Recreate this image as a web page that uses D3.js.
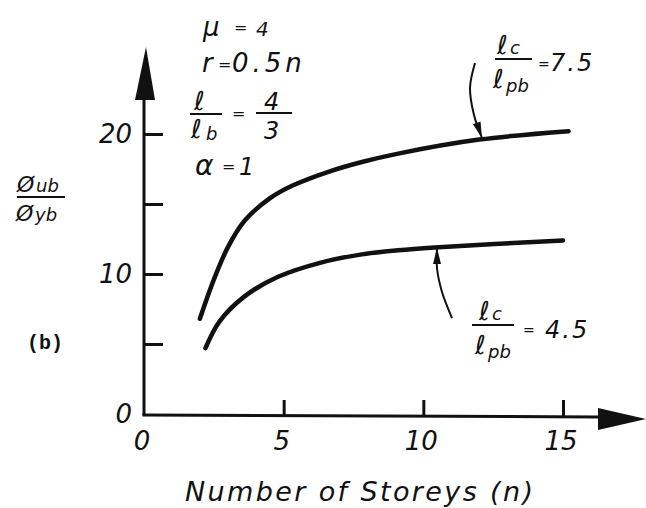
<!DOCTYPE html>
<html>
<head>
<meta charset="utf-8">
<script src="https://cdn.jsdelivr.net/npm/d3@7"></script>
<style>
  body { margin: 0; background: #fff; }
  svg { display: block; }
  text { font-family: "DejaVu Sans", sans-serif; font-style: italic; fill: #111; }
  text.mono { font-family: "Liberation Mono", "Courier New", monospace; font-style: normal; font-weight: bold; }
</style>
</head>
<body>
<svg width="646" height="508"></svg>
<script>
// ---- data ----
var storeysHi = [2.0, 2.5, 3.0, 3.6, 4.5, 5.3, 6.6, 7.8, 9.1, 12.0, 15.2];
var ratioHi   = [6.8, 9.6, 11.9, 13.8, 15.4, 16.3, 17.3, 18.0, 18.6, 19.6, 20.2]; // lc/lpb = 7.5
var storeysLo = [2.2, 2.7, 3.6, 4.8, 6.3, 7.8, 9.1, 10.4, 15.0];
var ratioLo   = [4.7, 6.6, 8.4, 9.8, 10.8, 11.4, 11.7, 11.9, 12.4];  // lc/lpb = 4.5
var xTickMarks = [5, 10, 15];
var xTickLabels = [0, 5, 10, 15];
var yTickMarks = [5, 10, 15, 20];
var yTickLabels = [0, 10, 20];

var svg = d3.select("svg"),
    width = +svg.attr("width"),
    height = +svg.attr("height");

var x = d3.scaleLinear().domain([0, 15]).range([144, 563]);
var y = d3.scaleLinear().domain([0, 20]).range([414, 134]);

var ink = "#111";

// axes with their arrow heads
var gAxes = svg.append("g");
gAxes.append("line")
    .attr("x1", x(0)).attr("y1", y(0) + 1.5)
    .attr("x2", x(0)).attr("y2", 98)
    .attr("stroke", ink).attr("stroke-width", 3);
gAxes.append("path")
    .attr("d", "M" + (x(0) - 9) + ",100 L" + (x(0) + 2) + ",47 L" + (x(0) + 11) + ",100 Z")
    .attr("fill", ink);
gAxes.append("line")
    .attr("x1", x(0) - 1.5).attr("y1", y(0) + 1)
    .attr("x2", 600).attr("y2", y(0) + 3)
    .attr("stroke", ink).attr("stroke-width", 3);
gAxes.append("path")
    .attr("d", "M598,408 L646,419 L598,430 Z")
    .attr("fill", ink);

// tick marks, drawn inward
gAxes.append("g")
    .attr("transform", "translate(" + x(0) + ",0)")
    .call(d3.axisLeft(y).tickValues(yTickMarks).tickSize(-19).tickFormat(""))
    .call(function(g) { g.select(".domain").remove(); })
    .selectAll(".tick line").attr("stroke", ink).attr("stroke-width", 3);
gAxes.append("g")
    .attr("transform", "translate(0," + (y(0) + 2) + ")")
    .call(d3.axisBottom(x).tickValues(xTickMarks).tickSize(-16).tickFormat(""))
    .call(function(g) { g.select(".domain").remove(); })
    .selectAll(".tick line").attr("stroke", ink).attr("stroke-width", 3);

// tick labels
svg.append("g").selectAll("text")
    .data(yTickLabels).enter()
    .append("text")
    .attr("x", x(0) - 12)
    .attr("y", function(d) { return y(d) + 9; })
    .attr("text-anchor", "end")
    .attr("font-size", 26)
    .text(function(d) { return d; });
svg.append("g").selectAll("text")
    .data(xTickLabels).enter()
    .append("text")
    .attr("x", function(d) { return x(d) - 2; })
    .attr("y", 450)
    .attr("text-anchor", "middle")
    .attr("font-size", 26)
    .text(function(d) { return d; });

// the two curves
var line = d3.line()
    .x(function(d) { return x(d[0]); })
    .y(function(d) { return y(d[1]); })
    .curve(d3.curveCatmullRom.alpha(0.5));
[[storeysHi, ratioHi], [storeysLo, ratioLo]].forEach(function(s) {
  svg.append("path")
      .datum(d3.zip(s[0], s[1]))
      .attr("d", line)
      .attr("fill", "none")
      .attr("stroke", ink)
      .attr("stroke-width", 4.5)
      .attr("stroke-linecap", "round");
});

// helper for plain text
function txt(x0, y0, s, size, spacing) {
  var t = svg.append("text").attr("x", x0).attr("y", y0).attr("font-size", size).text(s);
  if (spacing) t.attr("letter-spacing", spacing);
  return t;
}
function rule(x1, x2, yy) {
  svg.append("line").attr("x1", x1).attr("x2", x2).attr("y1", yy).attr("y2", yy)
      .attr("stroke", ink).attr("stroke-width", 2);
}

// parameters, top left
txt(203, 36, "\u03bc", 26);
txt(234, 33, "=", 16);
txt(256, 36, "4", 20);
txt(202, 72, "r", 26);
txt(218, 70, "=", 16);
txt(232, 72, "0.5n", 26, 4);
txt(194, 110, "\u2113", 26);
rule(190, 222, 114);
txt(191, 138, "\u2113", 26);
txt(206, 140, "b", 18);
txt(232, 119, "=", 16);
txt(264, 110, "4", 24);
rule(256, 292, 113);
txt(264, 139, "3", 24);
txt(195, 175, "\u03b1", 28);
txt(222, 172, "=", 16);
txt(239, 175, "1", 24);

// y axis title
txt(17, 192, "\u00d8", 22);
txt(36, 192, "ub", 18);
rule(17, 65, 197);
txt(16, 221, "\u00d8", 22);
txt(35, 221, "yb", 18);

txt(27, 349, "(b)", 20).attr("class", "mono");

// x axis title
txt(185, 501, "Number of Storeys (n)", 27).attr("textLength", 348).attr("lengthAdjust", "spacing");

// curve labels
txt(497, 54, "\u2113", 26);
txt(510, 54, "c", 18);
rule(495, 532, 59);
txt(493, 88, "\u2113", 26);
txt(506, 92, "pb", 18);
txt(538, 69, "=", 14);
txt(550, 71, "7.5", 24, 2);

txt(479, 320, "\u2113", 26);
txt(492, 320, "c", 18);
rule(472, 514, 325);
txt(475, 354, "\u2113", 26);
txt(488, 358, "pb", 18);
txt(523, 335, "=", 14);
txt(545, 338, "4.5", 24, 2);

// pointer arrows
function pointer(pts) {
  svg.append("path")
      .attr("d", d3.line().curve(d3.curveCatmullRom)(pts))
      .attr("fill", "none").attr("stroke", ink).attr("stroke-width", 2);
  var a = pts[pts.length - 2], b = pts[pts.length - 1];
  var ang = Math.atan2(b[1] - a[1], b[0] - a[0]);
  var L = 16, W = 4;
  var bx = b[0] - L * Math.cos(ang), by = b[1] - L * Math.sin(ang);
  svg.append("path")
      .attr("d", "M" + b[0] + "," + b[1] +
        " L" + (bx - W * Math.sin(ang)) + "," + (by + W * Math.cos(ang)) +
        " L" + (bx + W * Math.sin(ang)) + "," + (by - W * Math.cos(ang)) + " Z")
      .attr("fill", ink);
}
pointer([[475, 63], [470, 88], [474, 115], [482, 138]]);
pointer([[452, 318], [442, 292], [437, 268], [437, 248]]);
</script>
</body>
</html>
